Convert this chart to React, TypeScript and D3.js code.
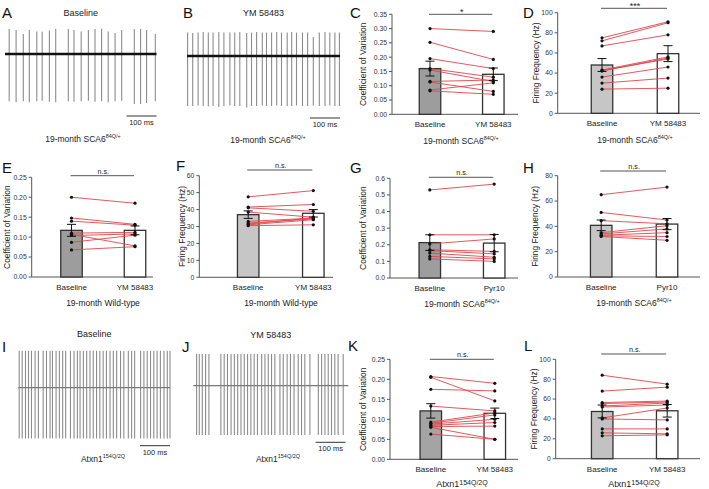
import * as d3 from "d3";

const FONT = "'Liberation Sans', Arial, Helvetica, sans-serif";

// ---- spike trains: spike times (ms) and peak amplitudes (mV) ----
const spikeTimesA = [14, 37, 61, 81, 106, 124, 148, 169, 211, 230, 254, 278, 300, 322, 344, 367, 389, 431, 452, 472, 501];
const spikeUpA = [0.96, 0.92, 0.77, 0.92, 0.87, 0.86, 0.9, 0.96, 0.96, 0.92, 0.87, 0.92, 0.96, 0.97, 0.87, 0.81, 0.92, 0.96, 0.96, 0.92, 0.77];
const spikeDownA = [-1.82, -1.86, -1.82, -1.86, -1.82, -1.8, -1.84, -1.86, -1.82, -1.84, -1.82, -1.8, -1.84, -1.82, -1.86, -1.82, -1.8, -1.92, -1.92, -1.88, -1.82];

const spikeTimesB = [2, 19, 37, 54, 71, 87, 106, 123, 143, 159, 176, 199, 215, 232, 251, 265, 282, 299, 315, 334, 349, 365, 385, 402, 421, 441, 460, 476, 493, 508];
const spikeUpB = [0.9, 0.88, 0.9, 0.92, 0.9, 0.9, 0.92, 0.9, 0.9, 0.9, 0.92, 0.88, 0.9, 0.92, 0.9, 0.9, 0.9, 0.92, 0.9, 0.9, 0.92, 0.9, 0.9, 0.9, 0.73, 0.9, 0.92, 0.9, 0.9, 0.9];
const spikeDownB = [-1.92, -1.92, -1.9, -1.92, -1.94, -1.92, -1.96, -1.92, -1.9, -1.92, -1.92, -1.98, -1.92, -1.92, -1.9, -1.92, -1.92, -1.9, -1.92, -1.92, -1.92, -1.9, -1.92, -1.92, -1.9, -1.92, -1.92, -1.9, -1.92, -1.92];

const spikeTimesI = [3, 13, 24, 34, 44, 56, 67, 83, 94, 106, 114, 126, 137, 148, 158, 174, 186, 197, 206, 217, 228, 239, 250, 261, 272, 283, 294, 306, 317, 328, 341, 352, 367, 378, 388, 408, 419, 430, 441, 452, 463, 474, 486, 497, 506];
const spikeUpI = 1.42;
const spikeDownI = -1.95;

const spikeTimesJ = [11, 20, 30, 41, 52, 92, 103, 114, 126, 137, 148, 159, 170, 181, 192, 203, 214, 228, 239, 250, 261, 272, 289, 300, 313, 324, 336, 350, 361, 372, 389, 417, 428, 439, 450, 461, 472, 483, 500];
const spikeUpJ = 1.22;
const spikeDownJ = -1.9;

// ---- paired recordings (before -> after) ----
const conditions = ["Baseline", "YM 58483"];
const conditionsPyr = ["Baseline", "Pyr10"];

const cvScaBase = [0.3, 0.252, 0.195, 0.16, 0.155, 0.115, 0.113, 0.085, 0.082];
const cvScaYm = [0.29, 0.192, 0.16, 0.13, 0.115, 0.12, 0.08, 0.11, 0.07];
const cvScaMean = [0.16, 0.14];
const cvScaSem = [0.026, 0.022];

const ffScaBase = [75, 72, 67, 43, 42, 42.5, 36, 30, 24];
const ffScaYm = [91, 90, 78, 56, 55, 54, 46, 35, 25];
const ffScaMean = [48, 59.3];
const ffScaSem = [6.4, 7.9];

const cvWtBase = [0.2, 0.148, 0.14, 0.11, 0.107, 0.104, 0.087, 0.068];
const cvWtYm = [0.185, 0.132, 0.13, 0.112, 0.078, 0.108, 0.105, 0.076];
const cvWtMean = [0.117, 0.117];
const cvWtSem = [0.015, 0.011];

const ffWtBase = [47.5, 41.5, 41, 38.5, 33, 32, 31.5, 31, 30.5];
const ffWtYm = [51.2, 43, 39, 35.5, 35, 34.5, 35, 34, 31];
const ffWtMean = [37, 37.8];
const ffWtSem = [2.2, 2.2];

const cvPyrBase = [0.53, 0.26, 0.205, 0.17, 0.165, 0.15, 0.13, 0.115];
const cvPyrTx = [0.565, 0.26, 0.235, 0.16, 0.145, 0.125, 0.115, 0.1];
const cvPyrMean = [0.213, 0.21];
const cvPyrSem = [0.047, 0.052];

const ffPyrBase = [65, 51, 44.5, 35, 34, 33, 32.5, 32];
const ffPyrTx = [71, 45, 42, 40.5, 38, 35, 32, 29];
const ffPyrMean = [40.8, 41.8];
const ffPyrSem = [4.2, 4.4];

const cvAtxBase = [0.207, 0.205, 0.175, 0.133, 0.093, 0.09, 0.088, 0.085, 0.082, 0.08, 0.063];
const cvAtxYm = [0.19, 0.146, 0.171, 0.121, 0.116, 0.111, 0.1, 0.092, 0.083, 0.05, 0.05];
const cvAtxMean = [0.121, 0.115];
const cvAtxSem = [0.018, 0.013];

const ffAtxBase = [84, 68, 56.5, 55.5, 53, 52, 41, 40, 30, 26, 23];
const ffAtxYm = [75, 72, 58, 57, 56, 54, 51, 39, 30, 25, 24];
const ffAtxMean = [47.5, 48.2];
const ffAtxSem = [6.5, 6.3];

const PX_PER_MV = 26;

function Sub({ x, y, main, sup, size = 8.5, supSize = 5.5, rise = 4 }: any) {
  return (
    <text x={x} y={y} textAnchor="middle" fontSize={size} fontFamily={FONT} fill="#222">
      <tspan>{main}</tspan>
      <tspan fontSize={supSize} dy={-rise}>{sup}</tspan>
    </text>
  );
}

function Trace(p: any) {
  const x = d3.scaleLinear().domain([0, p.tMax]).range([p.x0, p.x1]);
  const y = (v: number) => p.baseY - v * PX_PER_MV;
  const up = (i: number) => (Array.isArray(p.up) ? p.up[i] : p.up);
  const down = (i: number) => (Array.isArray(p.down) ? p.down[i] : p.down);
  return (
    <g>
      <text x={(p.x0 + p.x1) / 2} y={p.titleY} textAnchor="middle" fontSize={9} fontFamily={FONT} fill="#222">
        {p.title}
      </text>
      {p.times.map((t: number, i: number) => (
        <line key={i} x1={x(t)} x2={x(t)} y1={y(up(i))} y2={y(down(i))} stroke="#8c8c8c" strokeWidth={1.1} />
      ))}
      <line x1={p.x0} x2={p.x1} y1={p.baseY} y2={p.baseY} stroke={p.baseColor} strokeWidth={p.baseWidth} />
      <line x1={x(p.bar[0])} x2={x(p.bar[1])} y1={p.barY} y2={p.barY} stroke="#333" strokeWidth={1} />
      <text x={(x(p.bar[0]) + x(p.bar[1])) / 2} y={p.barY + 9} textAnchor="middle" fontSize={7.5} fontFamily={FONT} fill="#222">
        100 ms
      </text>
    </g>
  );
}

function BarPanel(p: any) {
  const y = d3.scaleLinear().domain([0, p.max]).range([p.y0, p.yTop]);
  const x = d3.scalePoint().domain(p.cats).range([p.c1, p.c2]);
  const bw = 21.5;
  const fmt = d3.format(p.fmt);
  const [cb, ct] = p.cats.map((c: string) => x(c) as number);
  return (
    <g fontFamily={FONT}>
      {/* axes */}
      <line x1={p.x0} x2={p.x0} y1={p.yTop} y2={p.y0} stroke="#555" strokeWidth={1} />
      <line x1={p.x0} x2={p.x1} y1={p.y0} y2={p.y0} stroke="#555" strokeWidth={1} />
      {y.ticks(p.ticks).map((t) => (
        <g key={t}>
          <line x1={p.x0 - 3} x2={p.x0} y1={y(t)} y2={y(t)} stroke="#555" />
          <text x={p.x0 - 5} y={y(t) + 2.4} textAnchor="end" fontSize={6.8} fill="#333">
            {fmt(t)}
          </text>
        </g>
      ))}
      <text
        transform={`translate(${p.titleX},${(p.y0 + p.yTop) / 2}) rotate(-90)`}
        textAnchor="middle"
        fontSize={8.4}
        fill="#222"
      >
        {p.yTitle}
      </text>

      {/* bars */}
      {p.means.map((m: number, i: number) => (
        <rect
          key={i}
          x={(i === 0 ? cb : ct) - bw / 2}
          y={y(m)}
          width={bw}
          height={p.y0 - y(m)}
          fill={i === 0 ? p.fill : "#fff"}
          stroke="#333"
          strokeWidth={1.3}
        />
      ))}

      {/* paired cells */}
      {p.before.map((b: number, i: number) => (
        <line key={i} x1={cb} x2={ct} y1={y(b)} y2={y(p.after[i])} stroke="#e0464c" strokeWidth={0.9} />
      ))}
      {p.before.map((b: number, i: number) => (
        <circle key={"b" + i} cx={cb} cy={y(b)} r={1.6} fill="#111" />
      ))}
      {p.after.map((a: number, i: number) => (
        <circle key={"a" + i} cx={ct} cy={y(a)} r={1.6} fill="#111" />
      ))}

      {/* mean +/- SEM */}
      {p.means.map((m: number, i: number) => {
        const cx = i === 0 ? cb : ct;
        const hi = y(m + p.sems[i]);
        const lo = y(m - p.sems[i]);
        return (
          <g key={"e" + i} stroke="#111" strokeWidth={1}>
            <line x1={cx} x2={cx} y1={hi} y2={lo} />
            <line x1={cx - 4.5} x2={cx + 4.5} y1={hi} y2={hi} />
            <line x1={cx - 4.5} x2={cx + 4.5} y1={lo} y2={lo} />
          </g>
        );
      })}

      {/* significance */}
      <line x1={cb - 1} x2={ct - 1} y1={p.sigY} y2={p.sigY} stroke="#555" strokeWidth={1} />
      <text
        x={(cb + ct) / 2}
        y={p.sig === "n.s." ? p.sigY - 2 : p.sigY + 1}
        textAnchor="middle"
        fontSize={p.sig === "n.s." ? 7.2 : 9}
        fill="#222"
      >
        {p.sig}
      </text>

      {p.cats.map((c: string) => (
        <text key={c} x={x(c)} y={p.y0 + 13} textAnchor="middle" fontSize={8} fill="#222">
          {c}
        </text>
      ))}
      {p.children}
    </g>
  );
}

function Letter({ x, y, t }: any) {
  return (
    <text x={x} y={y} fontSize={15} fontFamily={FONT} fill="#111">
      {t}
    </text>
  );
}

export default function App() {
  return (
    <svg width={709} height={489} style={{ position: "absolute", left: 0, top: 0, background: "#fff" }}>
      <rect width={709} height={489} fill="#fff" />

      {/* row 1 */}
      <Letter x={2} y={18} t="A" />
      <Letter x={183} y={18} t="B" />
      <Letter x={350} y={18} t="C" />
      <Letter x={523} y={18} t="D" />

      <Trace
        x0={5} x1={156.5} tMax={505} baseY={54} title="Baseline" titleY={15.5}
        times={spikeTimesA} up={spikeUpA} down={spikeDownA}
        baseColor="#111" baseWidth={2.6} bar={[405, 505]} barY={116}
      />
      <Sub x={83} y={142} main="19-month SCA6" sup="84Q/+" />
      <Trace
        x0={187} x1={340} tMax={510} baseY={56} title="YM 58483" titleY={15.5}
        times={spikeTimesB} up={spikeUpB} down={spikeDownB}
        baseColor="#111" baseWidth={2.6} bar={[410, 510]} barY={118}
      />
      <Sub x={268} y={143} main="19-month SCA6" sup="84Q/+" />

      <BarPanel
        x0={392} x1={518} c1={430} c2={493.3} yTop={14.3} y0={114.3} max={0.35} ticks={7} fmt=".2f"
        titleX={366} yTitle="Coefficient of Variation" cats={conditions}
        means={cvScaMean} sems={cvScaSem} before={cvScaBase} after={cvScaYm} fill="#9d9d9d"
        sig="*" sigY={14.3}
      >
        <Sub x={461} y={143.5} main="19-month SCA6" sup="84Q/+" />
      </BarPanel>
      <BarPanel
        x0={557.7} x1={700} c1={602} c2={668} yTop={12.7} y0={113.3} max={100} ticks={5} fmt="d"
        titleX={539} yTitle="Firing Frequency (Hz)" cats={conditions}
        means={ffScaMean} sems={ffScaSem} before={ffScaBase} after={ffScaYm} fill="#c6c6c6"
        sig="***" sigY={8.3}
      >
        <Sub x={635} y={142.5} main="19-month SCA6" sup="84Q/+" />
      </BarPanel>

      {/* row 2 */}
      <Letter x={2} y={173} t="E" />
      <Letter x={176} y={171} t="F" />
      <Letter x={350} y={173} t="G" />
      <Letter x={523} y={173} t="H" />

      <BarPanel
        x0={31.7} x1={153} c1={71.5} c2={135} yTop={177.3} y0={277} max={0.25} ticks={5} fmt=".2f"
        titleX={9.5} yTitle="Coefficient of Variation" cats={conditions}
        means={cvWtMean} sems={cvWtSem} before={cvWtBase} after={cvWtYm} fill="#9d9d9d"
        sig="n.s." sigY={175.7}
      >
        <text x={103} y={306} textAnchor="middle" fontSize={8.5} fontFamily={FONT} fill="#222">
          19-month Wild-type
        </text>
      </BarPanel>
      <BarPanel
        x0={199.3} x1={333} c1={248.2} c2={313.3} yTop={175.7} y0={277.3} max={60} ticks={6} fmt="d"
        titleX={184.5} yTitle="Firing Frequency (Hz)" cats={conditions}
        means={ffWtMean} sems={ffWtSem} before={ffWtBase} after={ffWtYm} fill="#c6c6c6"
        sig="n.s." sigY={170}
      >
        <text x={281} y={306} textAnchor="middle" fontSize={8.5} fontFamily={FONT} fill="#222">
          19-month Wild-type
        </text>
      </BarPanel>
      <BarPanel
        x0={390} x1={518} c1={429.8} c2={494.2} yTop={178.3} y0={278} max={0.6} ticks={6} fmt=".1f"
        titleX={366} yTitle="Coefficient of Variation" cats={conditionsPyr}
        means={cvPyrMean} sems={cvPyrSem} before={cvPyrBase} after={cvPyrTx} fill="#9d9d9d"
        sig="n.s." sigY={177.3}
      >
        <Sub x={462} y={306.5} main="19-month SCA6" sup="84Q/+" />
      </BarPanel>
      <BarPanel
        x0={557.7} x1={700} c1={601.2} c2={667} yTop={175.7} y0={277} max={80} ticks={4} fmt="d"
        titleX={538} yTitle="Firing Frequency (Hz)" cats={conditionsPyr}
        means={ffPyrMean} sems={ffPyrSem} before={ffPyrBase} after={ffPyrTx} fill="#c6c6c6"
        sig="n.s." sigY={171}
      >
        <Sub x={634} y={306} main="19-month SCA6" sup="84Q/+" />
      </BarPanel>

      {/* row 3 */}
      <Letter x={2} y={352} t="I" />
      <Letter x={182} y={352} t="J" />
      <Letter x={348} y={351} t="K" />
      <Letter x={524} y={351} t="L" />

      <Trace
        x0={18.3} x1={170} tMax={506} baseY={387.7} title="Baseline" titleY={337}
        times={spikeTimesI} up={spikeUpI} down={spikeDownI}
        baseColor="#7a7a7a" baseWidth={1.3} bar={[406, 506]} barY={445.7}
      />
      <Sub x={103} y={462} main="Atxn1" sup="154Q/2Q" />
      <Trace
        x0={193.3} x1={348.3} tMax={517} baseY={385.7} title="YM 58483" titleY={338}
        times={spikeTimesJ} up={spikeUpJ} down={spikeDownJ}
        baseColor="#7a7a7a" baseWidth={1.3} bar={[408, 508]} barY={442.3}
      />
      <Sub x={278} y={462} main="Atxn1" sup="154Q/2Q" />

      <BarPanel
        x0={390} x1={518} c1={430.8} c2={494.8} yTop={359.3} y0={459.3} max={0.25} ticks={5} fmt=".2f"
        titleX={366} yTitle="Coefficient of Variation" cats={conditions}
        means={cvAtxMean} sems={cvAtxSem} before={cvAtxBase} after={cvAtxYm} fill="#a4a4a4"
        sig="n.s." sigY={359.3}
      >
        <Sub x={462} y={487} main="Atxn1" sup="154Q/2Q" size={9} supSize={7} rise={2.5} />
      </BarPanel>
      <BarPanel
        x0={555.7} x1={700} c1={602.2} c2={667.2} yTop={359.3} y0={458.7} max={100} ticks={5} fmt="d"
        titleX={537} yTitle="Firing Frequency (Hz)" cats={conditions}
        means={ffAtxMean} sems={ffAtxSem} before={ffAtxBase} after={ffAtxYm} fill="#c2c2c2"
        sig="n.s." sigY={354}
      >
        <Sub x={634} y={487} main="Atxn1" sup="154Q/2Q" size={9} supSize={7} rise={2.5} />
      </BarPanel>
    </svg>
  );
}
